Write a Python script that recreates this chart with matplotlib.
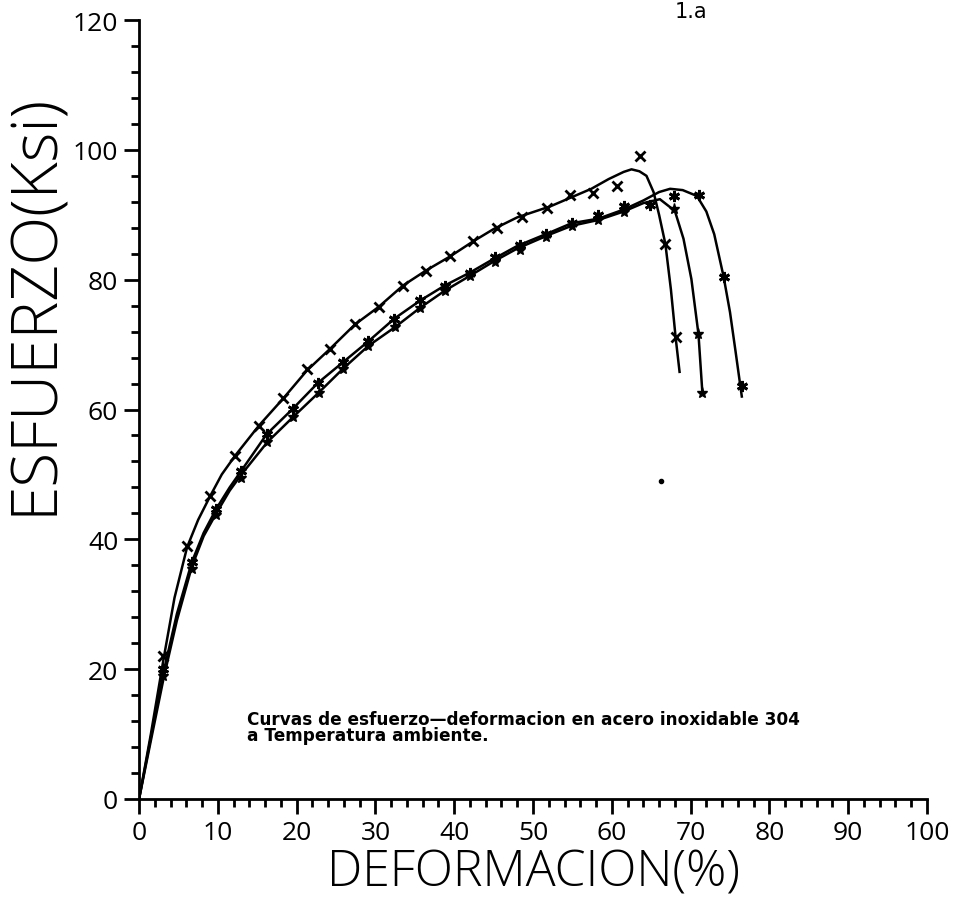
import matplotlib
matplotlib.use("Agg")
import matplotlib.pyplot as plt
from matplotlib.ticker import MultipleLocator

# ---- data ----
# Curve A (upper curve, "x" markers)
a_line_x = [0, 1.5, 3.1, 4.5, 6.1, 7.5, 9.0, 10.5, 12.2, 15.2, 18.3, 21.3, 24.2, 27.4, 30.4,
            33.5, 36.4, 39.5, 42.4, 45.0, 48.0, 52.2, 54.7, 57.4, 59.6, 61.5, 62.5, 63.5,
            64.4, 65.3, 66.0, 66.8, 67.5, 68.1, 68.6]
a_line_y = [0, 10, 21.5, 31, 38.8, 43, 46.6, 50, 52.9, 57.5, 61.7, 66.0, 69.3, 73.1, 75.8,
            79.1, 81.4, 83.6, 85.9, 87.8, 89.6, 91.3, 92.6, 94.0, 95.5, 96.6, 97.0, 96.7,
            96.0, 93.5, 90.0, 85.5, 78.5, 71.1, 65.8]
a_mark_x = [3.1, 6.1, 9.0, 12.2, 15.2, 18.3, 21.3, 24.2, 27.4, 30.4, 33.5, 36.4, 39.5, 42.4,
            45.4, 48.6, 51.8, 54.7, 57.6, 60.6, 63.6, 66.8, 68.1]
a_mark_y = [22.1, 39.0, 46.6, 52.9, 57.5, 61.7, 66.2, 69.3, 73.1, 75.8, 79.1, 81.4, 83.6, 85.9,
            87.9, 89.7, 91.0, 93.0, 93.4, 94.4, 99.1, 85.5, 71.1]

# Curve B (middle, ends at ~76 %)
b_line_x = [0, 1.5, 3.1, 4.8, 6.7, 8.2, 9.8, 11.5, 13.0, 16.2, 19.5, 22.7, 25.9, 29.1, 32.4,
            35.7, 38.8, 42.0, 45.0, 48.0, 52.2, 54.9, 58.3, 61.5, 64.0, 66.0, 67.4, 69.0,
            70.8, 72.0, 73.0, 74.2, 75.0, 75.7, 76.5]
b_line_y = [0, 9.5, 19.5, 28.5, 36.5, 41, 44.7, 48, 50.6, 56.2, 60.1, 64.1, 67.3, 70.5, 74.0,
            76.8, 79.1, 81.1, 83.2, 85.2, 87.3, 88.7, 89.4, 90.8, 92.2, 93.5, 94.0, 93.8,
            92.9, 90.5, 87.0, 80.4, 75.0, 69.0, 62.0]
b_mark_x = [3.1, 6.7, 9.8, 13.0, 16.2, 19.5, 22.7, 25.9, 29.1, 32.4, 35.7, 38.8, 42.0, 45.2,
            48.4, 51.6, 54.9, 58.3, 61.5, 64.8, 67.9, 71.1, 74.2, 76.5]
b_mark_y = [20.0, 36.5, 44.7, 50.6, 56.2, 60.1, 64.1, 67.3, 70.5, 74.0, 76.8, 79.1, 81.1, 83.5,
            85.3, 87.0, 88.7, 89.9, 91.3, 91.5, 92.9, 93.1, 80.4, 63.6]

# Curve C (lower, ends at ~71 %)
c_line_x = [0, 1.5, 3.1, 4.8, 6.7, 8.2, 9.8, 11.5, 13.0, 16.3, 19.6, 22.8, 25.9, 29.1, 32.5,
            35.7, 38.8, 42.0, 45.0, 48.0, 52.2, 54.9, 58.3, 61.5, 64.0, 66.1, 68.0, 69.1,
            70.1, 71.0, 71.5]
c_line_y = [0, 9, 18.5, 27.5, 35.8, 40.5, 44.0, 47.5, 50.0, 55.0, 58.9, 62.6, 66.3, 69.8, 72.7,
            75.7, 78.3, 80.6, 82.8, 84.8, 87.0, 88.3, 89.2, 90.5, 91.8, 92.4, 90.6, 86.3,
            80.1, 71.6, 62.5]
c_mark_x = [3.1, 6.7, 9.8, 13.0, 16.3, 19.6, 22.8, 25.9, 29.1, 32.5, 35.7, 38.8, 42.0, 45.2,
            48.4, 51.6, 54.9, 58.3, 61.5, 67.9, 71.0, 71.5]
c_mark_y = [19.0, 35.5, 43.7, 49.5, 55.0, 58.9, 62.6, 66.3, 69.8, 72.7, 75.7, 78.3, 80.6, 82.8,
            84.6, 86.6, 88.3, 89.2, 90.5, 90.9, 71.6, 62.5]

speck_x = [66.3]
speck_y = [49.0]

x_ticks = [0, 10, 20, 30, 40, 50, 60, 70, 80, 90, 100]
y_ticks = [0, 20, 40, 60, 80, 100, 120]

note_text = "Curvas de esfuerzo\u2014deformacion en acero inoxidable 304\na Temperatura ambiente."

# ---- figure ----
fig = plt.figure(figsize=(9.59, 9.03), dpi=100)
ax = fig.add_axes([0.145, 0.1141, 0.8216, 0.8626])

lw = 1.8
ax.plot(a_line_x, a_line_y, color="black", lw=lw)
ax.plot(b_line_x, b_line_y, color="black", lw=lw)
ax.plot(c_line_x, c_line_y, color="black", lw=lw)
ax.plot(a_mark_x, a_mark_y, ls="none", marker="x", ms=7, mew=2, color="black")
ax.plot(b_mark_x, b_mark_y, ls="none", marker=(6, 2, 0), ms=8, mew=2, color="black")
ax.plot(c_mark_x, c_mark_y, ls="none", marker="*", ms=8, color="black")
ax.plot(speck_x, speck_y, ls="none", marker="o", ms=3, color="black")

ax.set_xlim(0, 100)
ax.set_ylim(0, 120)
ax.spines["top"].set_visible(False)
ax.spines["right"].set_visible(False)
for s in ("left", "bottom"):
    ax.spines[s].set_linewidth(2)

ax.set_xticks(x_ticks)
ax.set_yticks(y_ticks)
ax.xaxis.set_minor_locator(MultipleLocator(2))
ax.yaxis.set_minor_locator(MultipleLocator(4))
ax.tick_params(which="major", direction="out", length=11, width=2, labelsize=19, pad=4)
ax.tick_params(which="minor", direction="out", length=6, width=2)
for lab in ax.get_xticklabels() + ax.get_yticklabels():
    lab.set_family(["Open Sans", "DejaVu Sans"])

label_font = dict(family=["Open Sans", "DejaVu Sans"], fontweight="light")
ax.set_xlabel("DEFORMACION(%)", fontsize=36, **label_font)
ax.set_ylabel("ESFUERZO(Ksi)", fontsize=46, **label_font)
ax.xaxis.set_label_coords(0.5, -0.095, transform=ax.transAxes)
ax.xaxis.label.set_va("center")
ax.yaxis.set_label_coords(-0.09, 0.637)

ax.text(13.7, 11.1, note_text, fontsize=12.2, fontweight="bold", ha="left", va="center",
        linespacing=0.88)
fig.text(0.7205, 0.998, "1.a", fontsize=15, ha="center", va="top")

fig.savefig("out.png", dpi=100)
